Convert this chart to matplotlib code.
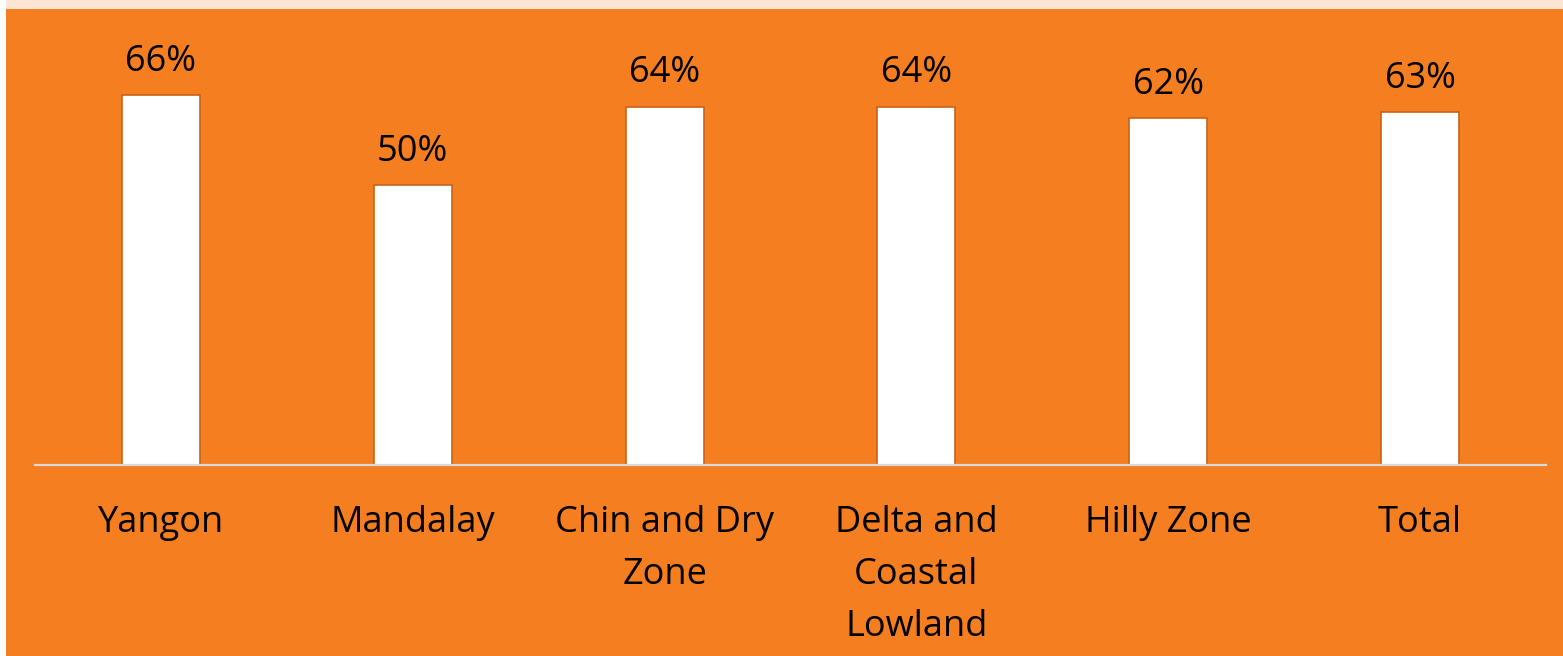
import matplotlib.pyplot as plt
from matplotlib.patches import Rectangle

categories = ['Yangon', 'Mandalay', 'Chin and Dry\nZone', 'Delta and\nCoastal\nLowland', 'Hilly Zone', 'Total']
values = [66, 50, 64, 64, 62, 63]
labels = ['66%', '50%', '64%', '64%', '62%', '63%']

W, H = 1563, 656
orange = '#F47E20'

plt.rcParams['font.family'] = ['Open Sans', 'DejaVu Sans']
fig = plt.figure(figsize=(W / 100, H / 100), dpi=100, facecolor='white')

# background panels
fig.patches.append(Rectangle((6 / W, 0), 1 - 6 / W, 1 - 9 / H, transform=fig.transFigure,
                             facecolor=orange, edgecolor='none', zorder=-2))
fig.patches.append(Rectangle((6 / W, 1 - 9 / H), 1 - 6 / W, 9 / H, transform=fig.transFigure,
                             facecolor='#FDE5D6', edgecolor='none', zorder=-2))

# axes: x from 35 to 1546 px, baseline at y=465, top at y=9
left, right = 35, 1546
base, top = 465, 9
ax = fig.add_axes([left / W, 1 - base / H, (right - left) / W, (base - top) / H])
ax.set_facecolor('none')

x = range(len(categories))
ax.bar(x, values, width=0.31, color='white', edgecolor='#C8631A', linewidth=1.2, zorder=2)
ax.set_xlim(-0.5, len(categories) - 0.5)
ax.set_ylim(0, (base - top) / 5.6)

for xi, v, lab in zip(x, values, labels):
    ax.annotate(lab, (xi, v), xytext=(0, 11), textcoords='offset points',
                ha='center', va='bottom', fontsize=26, color='black')

for s in ['top', 'right', 'left']:
    ax.spines[s].set_visible(False)
ax.spines['bottom'].set_color('#D9D9D9')
ax.spines['bottom'].set_linewidth(1.6)
ax.spines['bottom'].set_zorder(3)
ax.set_yticks([])
ax.set_xticks(list(x))
ax.set_xticklabels(categories, fontsize=26, linespacing=1.58, va='top')
ax.tick_params(axis='x', length=0, pad=29)

fig.savefig('out.png', dpi=100, facecolor=fig.get_facecolor())
